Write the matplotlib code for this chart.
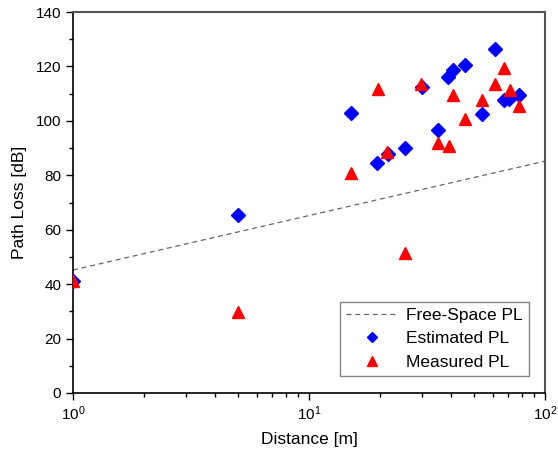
import matplotlib
matplotlib.use("Agg")
import matplotlib.pyplot as plt
from matplotlib.ticker import MultipleLocator, LogLocator

plt.rcParams['font.family'] = ['Liberation Sans', 'DejaVu Sans']
plt.rcParams['mathtext.default'] = 'regular'

fs_dist = [1, 100]
fs_pl = [45.2, 85.2]

est_dist = [1, 5, 15, 19.4, 21.6, 25.5, 30, 35.1, 38.9, 40.6, 45.9, 54.2, 61.6, 67.0, 70.6, 77.4]
est_pl = [41, 65.5, 103, 84.6, 87.7, 90.2, 112.3, 96.7, 116, 118.7, 120.4, 102.6, 126.3, 107.7, 108.2, 109.6]

meas_dist = [1, 5, 15, 19.7, 21.5, 25.5, 29.7, 35.2, 39.1, 40.6, 45.9, 54.2, 61.5, 67.2, 70.8, 77.4]
meas_pl = [41.3, 29.8, 80.8, 111.7, 88.6, 51.6, 113.5, 91.7, 90.8, 109.6, 100.6, 107.6, 113.5, 119.5, 111.4, 105.5]

fig = plt.figure(figsize=(5.58, 4.55), dpi=100)
ax = fig.add_axes([73/558, 1-393/455, (545-73)/558, (393-12)/455])

ax.plot(fs_dist, fs_pl, linestyle=(0, (4, 3)), color='#666666', lw=0.9, label='Free-Space PL', zorder=2)
ax.plot(est_dist, est_pl, linestyle='none', marker='D', ms=6.8, color='#0000ff', mec='#0000ff', label='Estimated PL', zorder=3)
ax.plot(meas_dist, meas_pl, linestyle='none', marker='^', ms=8.5, color='#ff0000', mec='#ff0000', label='Measured PL', zorder=4)

ax.set_xscale('log')
ax.set_xlim(1, 100)
ax.set_ylim(0, 140)
ax.yaxis.set_major_locator(MultipleLocator(20))
ax.yaxis.set_minor_locator(MultipleLocator(10))
ax.xaxis.set_major_locator(LogLocator(base=10, numticks=10))
ax.xaxis.set_minor_locator(LogLocator(base=10, subs=range(2, 10), numticks=10))

ax.tick_params(which='both', direction='out', top=False, right=False, labelsize=11, colors='black')
ax.tick_params(which='major', length=5, width=1)
ax.tick_params(which='minor', length=3, width=1)
for s in ['left', 'bottom']:
    ax.spines[s].set_color('black')
    ax.spines[s].set_linewidth(1.2)
for s in ['top', 'right']:
    ax.spines[s].set_color('#555555')
    ax.spines[s].set_linewidth(1.5)

ax.set_xlabel('Distance [m]', fontsize=12.5, labelpad=6)
ax.set_ylabel('Path Loss [dB]', fontsize=12.5, labelpad=6)

leg = ax.legend(loc='lower right', fontsize=12.5, frameon=True, fancybox=False,
                edgecolor='#666666', handlelength=2.9, handletextpad=0.55,
                borderpad=0.35, labelspacing=0.48, markerscale=0.8,
                borderaxespad=0, bbox_to_anchor=(0.966, 0.045))
leg.get_frame().set_linewidth(1.0)

fig.savefig('out.png', dpi=100)
